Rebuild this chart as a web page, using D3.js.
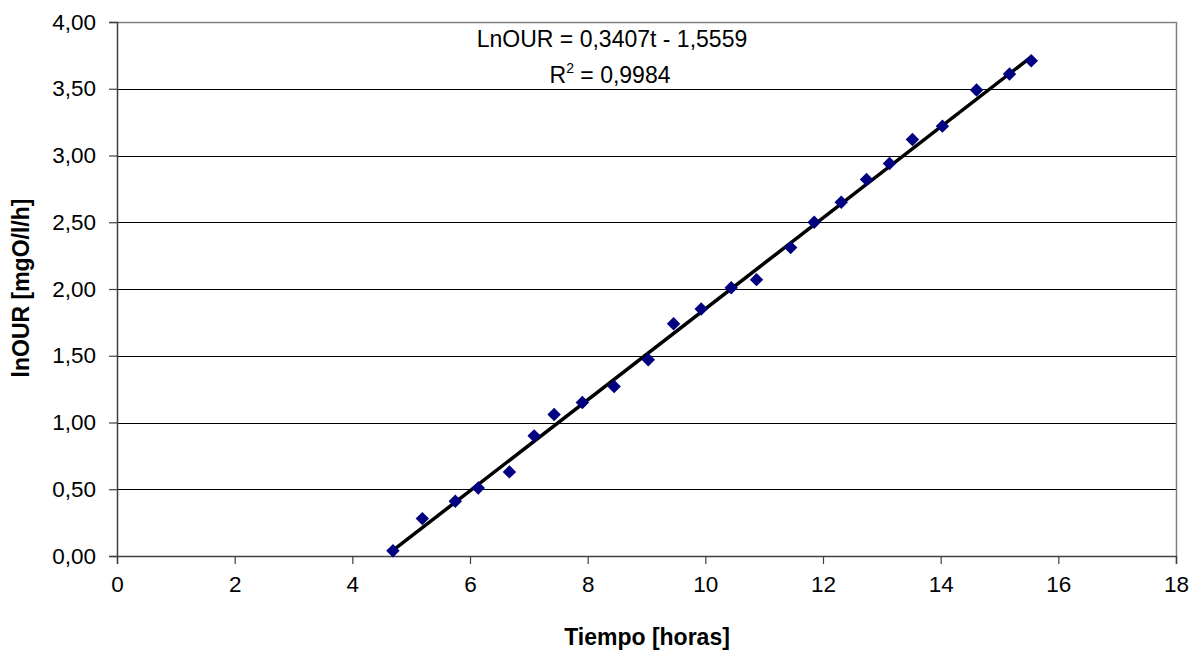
<!DOCTYPE html>
<html>
<head>
<meta charset="utf-8">
<script src="https://cdn.jsdelivr.net/npm/d3@7"></script>
<style>
html,body{margin:0;padding:0;background:#fff;}
svg{display:block;font-family:"Liberation Sans",Arial,sans-serif;}
</style>
</head>
<body>
<svg id="chart" width="1202" height="654"></svg>
<script>
// Data
const tiempo = [4.69, 5.19, 5.75, 6.14, 6.67, 7.09, 7.43, 7.91, 8.45, 9.03, 9.46, 9.93,
                10.44, 10.87, 11.45, 11.85, 12.31, 12.74, 13.13, 13.52, 14.03, 14.61, 15.17, 15.54];
const lnOUR = [0.04, 0.28, 0.41, 0.51, 0.63, 0.90, 1.06, 1.15, 1.27, 1.47, 1.74, 1.85,
               2.01, 2.07, 2.31, 2.50, 2.65, 2.82, 2.94, 3.12, 3.22, 3.49, 3.61, 3.71];
const slope = 0.3407, intercept = -1.5559, r2 = "0,9984";
const xTicks = [0, 2, 4, 6, 8, 10, 12, 14, 16, 18];
const yTicks = [0, 0.5, 1, 1.5, 2, 2.5, 3, 3.5, 4];
const xTitle = "Tiempo [horas]";
const yTitle = "lnOUR [mgO/l/h]";
const eqText = "LnOUR = 0,3407t - 1,5559";

const svg = d3.select("#chart");
const m = {left: 117, right: 1176, top: 22, bottom: 556};
const x = d3.scaleLinear().domain([0, 18]).range([m.left, m.right]);
const y = d3.scaleLinear().domain([0, 4]).range([m.bottom, m.top]);
const fmt = v => d3.format(".2f")(v).replace(".", ",");

// gridlines
svg.append("g").selectAll("line").data(yTicks.filter(d => d > 0 && d < 4)).join("line")
  .attr("x1", m.left).attr("x2", m.right)
  .attr("y1", d => Math.round(y(d)) + 0.5).attr("y2", d => Math.round(y(d)) + 0.5)
  .attr("stroke", "#000").attr("stroke-width", 1);

// border top/right
svg.append("path")
  .attr("d", `M${m.left},${m.top + 0.5}H${m.right + 0.5}V${m.bottom}`)
  .attr("fill", "none").attr("stroke", "#808080").attr("stroke-width", 1.5);

// axes
const yAxis = d3.axisLeft(y).tickValues(yTicks).tickFormat(fmt).tickSize(8).tickPadding(13);
const gy = svg.append("g").attr("transform", `translate(${m.left},0)`).call(yAxis);
const xAxis = d3.axisBottom(x).tickValues(xTicks).tickFormat(d => d).tickSize(8).tickPadding(12);
const gx = svg.append("g").attr("transform", `translate(0,${m.bottom})`).call(xAxis);
[gx, gy].forEach(g => {
  g.select(".domain").attr("stroke", "#404040").attr("stroke-width", 1.5);
  g.selectAll(".tick line").attr("stroke", "#404040").attr("stroke-width", 1.2);
  g.selectAll(".tick text").attr("font-size", 22.5).attr("fill", "#000")
    .attr("font-family", '"Liberation Sans",Arial,sans-serif');
});

// trend line
const line = d3.line().x(d => x(d)).y(d => y(slope * d + intercept));
svg.append("path").datum([d3.min(tiempo), d3.max(tiempo)])
  .attr("d", line).attr("stroke", "#000").attr("stroke-width", 3.5).attr("fill", "none");

// markers
const sym = d3.symbol().type(d3.symbolDiamond2).size(115);
svg.append("g").selectAll("path").data(tiempo.map((t, i) => [t, lnOUR[i]])).join("path")
  .attr("d", sym)
  .attr("transform", d => `translate(${x(d[0])},${y(d[1])})`)
  .attr("fill", "#000080");

// equation
svg.append("text").attr("x", 612).attr("y", 47).attr("text-anchor", "middle")
  .attr("font-size", 23).text(eqText);
const r = svg.append("text").attr("x", 610).attr("y", 83).attr("text-anchor", "middle")
  .attr("font-size", 23);
r.append("tspan").text("R");
r.append("tspan").attr("font-size", 14).attr("dy", -10).text("2");
r.append("tspan").attr("dy", 10).text(" = " + r2);

// titles
svg.append("text").attr("x", 647).attr("y", 645).attr("text-anchor", "middle")
  .attr("font-size", 23).attr("font-weight", "bold").text(xTitle);
svg.append("text").attr("transform", "translate(29,288) rotate(-90)").attr("text-anchor", "middle")
  .attr("font-size", 23).attr("font-weight", "bold").text(yTitle);
</script>
</body>
</html>
